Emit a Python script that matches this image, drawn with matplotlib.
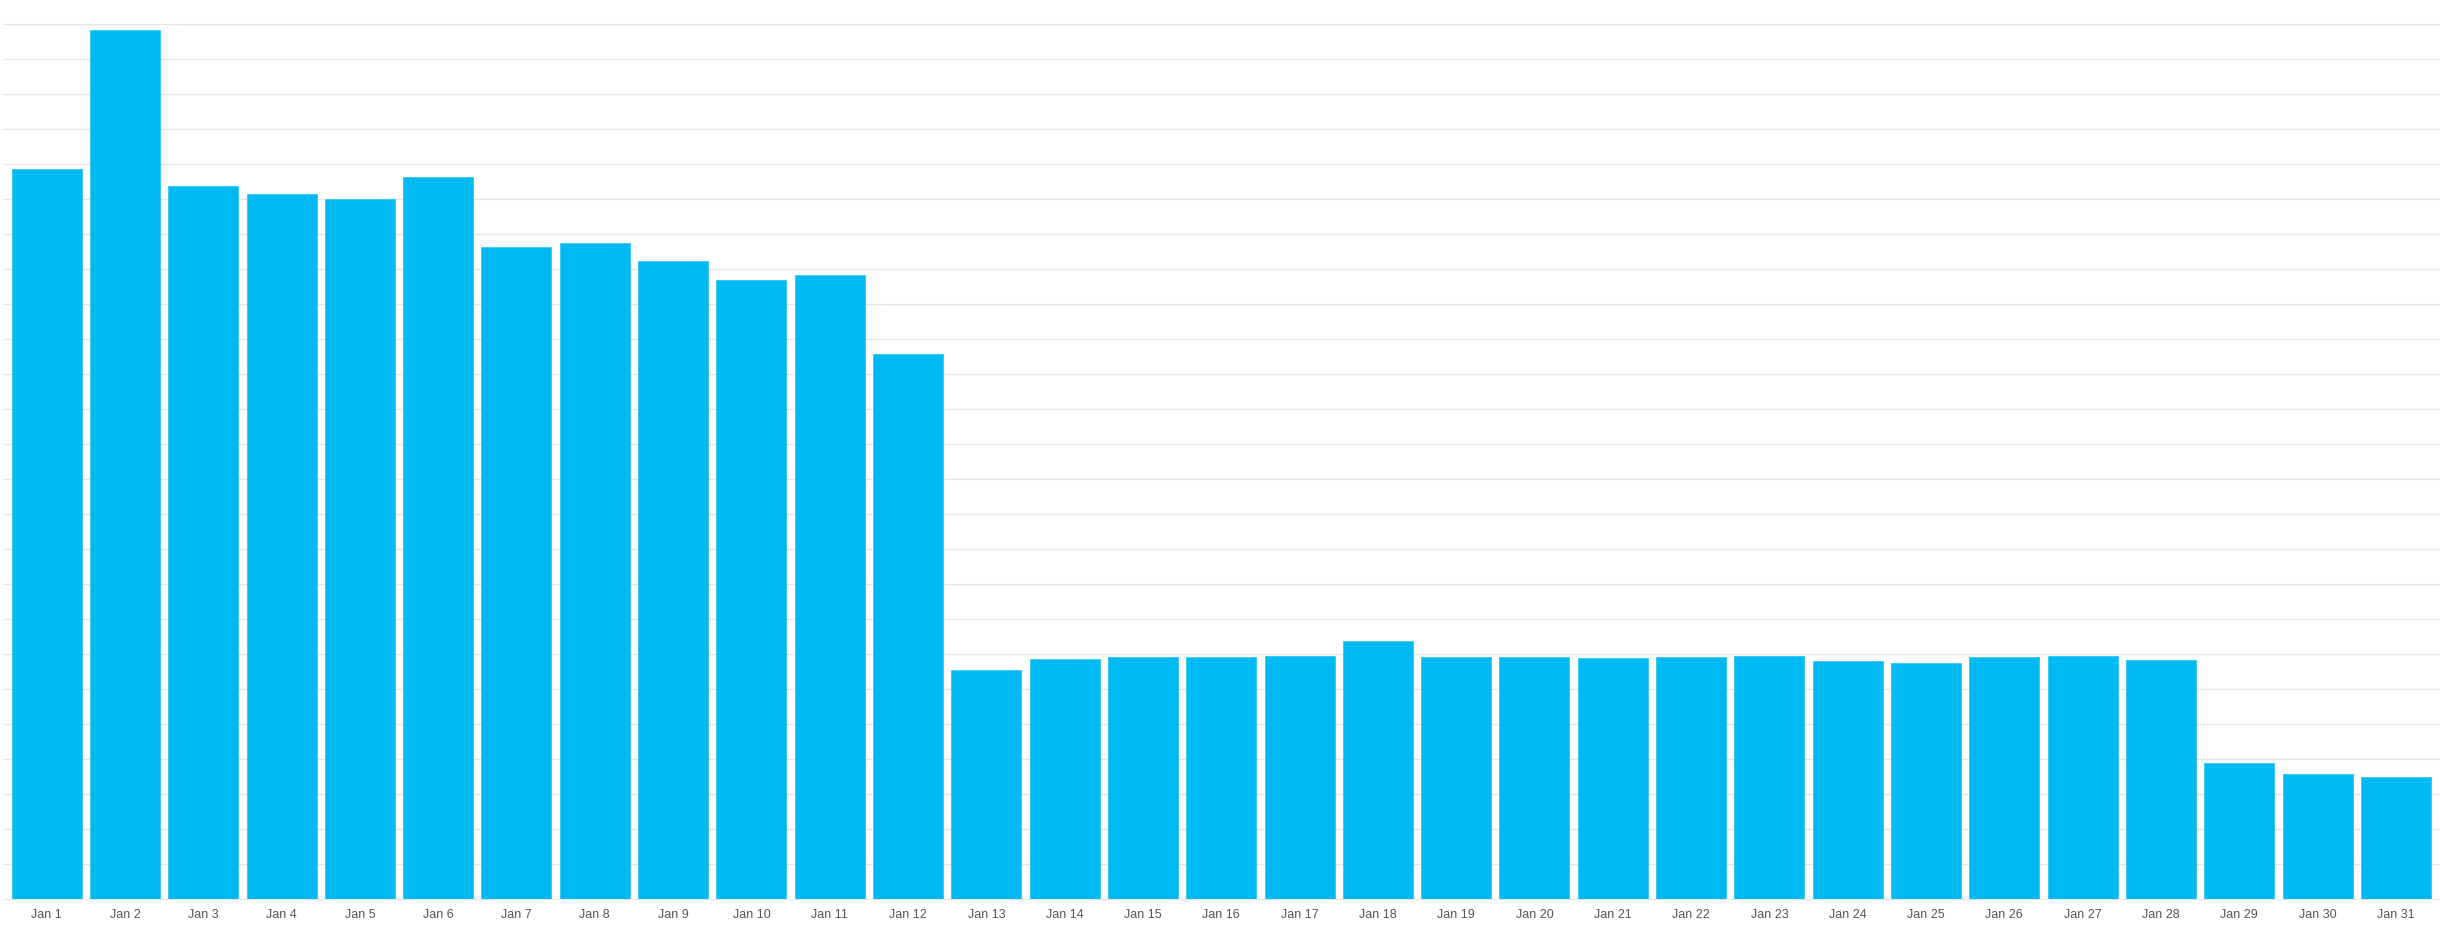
import matplotlib
matplotlib.use("Agg")
import matplotlib.pyplot as plt

days = [f"Jan {d}" for d in range(1, 32)]
values = [20.85, 24.83, 20.37, 20.15, 19.99, 20.62, 18.62, 18.73, 18.24, 17.68,
          17.82, 15.56, 6.54, 6.85, 6.92, 6.91, 6.94, 7.36, 6.91, 6.91,
          6.90, 6.91, 6.95, 6.80, 6.75, 6.91, 6.95, 6.83, 3.89, 3.57, 3.49]
y_ticks = list(range(0, 26))

W, H = 2440, 938
fig = plt.figure(figsize=(W / 100, H / 100), dpi=100)
left_px, right_px, top_px, bottom_px = 4, 2440, 24, 899
ax = fig.add_axes([left_px / W, (H - bottom_px) / H,
                   (right_px - left_px) / W, (bottom_px - top_px) / H])

x = list(range(len(days)))
ax.bar(x, values, width=0.894, color="#02BAF2", edgecolor="#2FC6F4",
       linewidth=0.6, zorder=3)

pitch = 78.3
ax.set_xlim(-0.5 - 3.5 / pitch, 30.5 + 5 / pitch)
ax.set_ylim(0, 25)
ax.set_yticks(y_ticks)
ax.set_yticklabels([])
ax.set_xticks(x)
ax.set_xticklabels(days, fontsize=9, color="#555555", family="Liberation Sans")
ax.tick_params(axis="x", length=0, pad=7)
ax.tick_params(axis="y", length=0)
ax.grid(axis="y", color="#E6E6E6", linewidth=1.0, zorder=0)
ax.set_axisbelow(True)
for s in ax.spines.values():
    s.set_visible(False)
ax.set_clip_on(False)
for gl in ax.get_ygridlines():
    gl.set_clip_on(False)

fig.savefig("out.png", dpi=100, facecolor="white")
